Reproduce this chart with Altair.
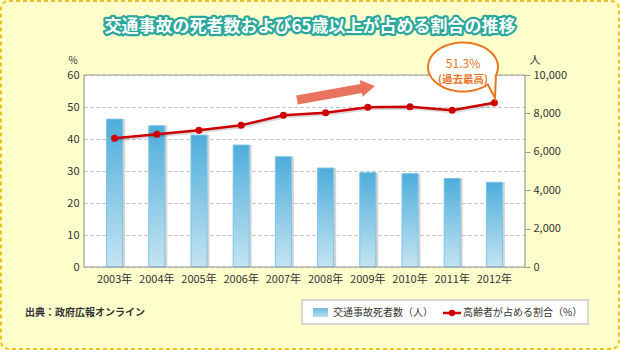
import math
import altair as alt
import pandas as pd

# ---------------- data ----------------
years = ["2003年", "2004年", "2005年", "2006年", "2007年",
         "2008年", "2009年", "2010年", "2011年", "2012年"]
deaths = [7702, 7358, 6871, 6352, 5744, 5155, 4914, 4863, 4611, 4411]
ratio = [40.2, 41.5, 42.7, 44.3, 47.4, 48.2, 49.9, 50.1, 49.0, 51.3]
left_ticks = [0, 10, 20, 30, 40, 50, 60]
right_ticks = [0, 2000, 4000, 6000, 8000, 10000]

title_text = "交通事故の死者数および65歳以上が占める割合の推移"
source_text = "出典：政府広報オンライン"
legend_bar = "交通事故死者数（人）"
legend_line = "高齢者が占める割合（%）"
callout_value = "51.3%"
callout_note = "(過去最高)"
unit_left = "%"
unit_right = "人"

FONT = "Noto Sans CJK JP"
W, H = 441, 192

df = pd.DataFrame({"year": years, "deaths": deaths, "ratio": ratio})
one = pd.DataFrame({"k": [0]})

# ---------------- encodings ----------------
x_enc = alt.X("year:N", sort=years,
              scale=alt.Scale(paddingInner=0.62, paddingOuter=0.535),
              axis=alt.Axis(title=None, labelAngle=0, ticks=False, domain=False,
                            labelPadding=6, labelFontSize=11, labelColor="#333333",
                            labelFont=FONT, grid=False))

y_deaths = alt.Y("deaths:Q", scale=alt.Scale(domain=[0, 10000], nice=False),
                 axis=alt.Axis(orient="right", values=right_ticks, format=",.0f",
                               title=None, domain=False, ticks=True, tickSize=5,
                               tickColor="#999999", labelPadding=3, labelFontSize=11,
                               labelColor="#333333", grid=False, labelFont=FONT))

y_ratio = alt.Y("ratio:Q", scale=alt.Scale(domain=[0, 60], nice=False),
                axis=alt.Axis(orient="left", values=left_ticks, title=None,
                              domain=False, ticks=False, labelPadding=5, grid=True,
                              gridColor="#BBBBBB", gridDash=[3, 3], labelFontSize=11,
                              labelColor="#333333", labelFont=FONT))

bar_grad = alt.LinearGradient(
    gradient="linear",
    stops=[alt.GradientStop(color="#4EADDB", offset=0),
           alt.GradientStop(color="#C4E4F1", offset=1)],
    x1=0, x2=0, y1=0, y2=1)

# ---------------- data layers ----------------
bar_shadow = alt.Chart(df).mark_bar(color="#888888", opacity=0.35, xOffset=2.5).encode(
    x=x_enc, y=y_deaths)
bars = alt.Chart(df).mark_bar(color=bar_grad, stroke="#7CC4E8", strokeWidth=1).encode(
    x=x_enc, y=y_deaths)
bar_group = alt.layer(bar_shadow, bars)

line_shadow = alt.Chart(df).mark_line(color="#000000", opacity=0.15, strokeWidth=3,
                                      xOffset=1.5, yOffset=1.5).encode(x=x_enc, y=y_ratio)
line = alt.Chart(df).mark_line(
    color="#CC0000", strokeWidth=2.5,
    point=alt.OverlayMarkDef(filled=True, size=50, color="#CC0000", opacity=1)
).encode(x=x_enc, y=y_ratio)
line_group = alt.layer(line_shadow, line)

# ---------------- decorations ----------------
frame = alt.Chart(one).mark_rect(fill="#ffffff", fillOpacity=0, stroke="#9A9A9A",
                                 strokeWidth=1.2).encode(
    x=alt.value(0), x2=alt.value(W), y=alt.value(0), y2=alt.value(H))

border = alt.Chart(one).mark_rect(fill="#ffffff", fillOpacity=0, stroke="#F0C020",
                                  strokeWidth=2, strokeDash=[4, 3], cornerRadius=8).encode(
    x=alt.value(-83), x2=alt.value(535), y=alt.value(-74), y2=alt.value(274))

title_outline = alt.Chart(one).mark_text(
    text=title_text, font=FONT, fontSize=17, fontWeight="bold", fill="#2CA89B",
    stroke="#2CA89B", strokeWidth=4.5, strokeJoin="round", align="center",
    baseline="middle").encode(x=alt.value(226), y=alt.value(-48))
title_fill = alt.Chart(one).mark_text(
    text=title_text, font=FONT, fontSize=17, fontWeight="bold", fill="#FFFFFF",
    align="center", baseline="middle").encode(x=alt.value(226), y=alt.value(-48))

unit_l = alt.Chart(one).mark_text(text=unit_left, font=FONT, fontSize=10, color="#333333",
                                  align="center", baseline="middle").encode(
    x=alt.value(-11), y=alt.value(-14))
unit_r = alt.Chart(one).mark_text(text=unit_right, font=FONT, fontSize=11, color="#333333",
                                  align="center", baseline="middle").encode(
    x=alt.value(451), y=alt.value(-14))

# arrow shape (pixel units with size=4)
arrow_path = "M-39.6,-4.5 L25.6,-4.5 L25.6,-8.5 L39.6,0 L25.6,8.5 L25.6,4.5 L-39.6,4.5 Z"
arrow = alt.Chart(one).mark_point(shape=arrow_path, size=4, filled=True, fill="#E9735F",
                                  strokeWidth=0, opacity=1, angle=349.8).encode(
    x=alt.value(252), y=alt.value(18))

# speech bubble shape
a, b = 35, 24.5
pts = []
for i in range(0, 56):
    th = math.radians(45 + i * (335 / 55))
    pts.append((a * math.cos(th), b * math.sin(th)))
bubble_path = "M" + " L".join(f"{px:.2f},{py:.2f}" for px, py in pts) + " L32,31 Z"
bubble = alt.Chart(one).mark_point(shape=bubble_path, size=4, filled=True, fill="#FFFFFF",
                                   stroke="#E8781E", strokeWidth=2, opacity=1).encode(
    x=alt.value(379), y=alt.value(-8))
bubble_t1 = alt.Chart(one).mark_text(text=callout_value, font=FONT, fontSize=12,
                                     color="#E8731E", align="center",
                                     baseline="middle").encode(
    x=alt.value(379), y=alt.value(-11))
bubble_t2 = alt.Chart(one).mark_text(text=callout_note, font=FONT, fontSize=10.5,
                                     fontWeight="bold", color="#E8731E", align="center",
                                     baseline="middle").encode(
    x=alt.value(379), y=alt.value(5))

# legend
leg_box = alt.Chart(one).mark_rect(fill="#FFFFFF", stroke="#CCCCCC", strokeWidth=1.5).encode(
    x=alt.value(218), x2=alt.value(504), y=alt.value(225), y2=alt.value(249))
leg_sq_grad = alt.LinearGradient(
    gradient="linear",
    stops=[alt.GradientStop(color="#6CBCE4", offset=0),
           alt.GradientStop(color="#B4DCF0", offset=1)],
    x1=0, x2=0, y1=0, y2=1)
leg_sq = alt.Chart(one).mark_rect(color=leg_sq_grad).encode(
    x=alt.value(229), x2=alt.value(244), y=alt.value(233), y2=alt.value(242))
leg_t1 = alt.Chart(one).mark_text(text=legend_bar, font=FONT, fontSize=10, color="#333333",
                                  align="left", baseline="middle").encode(
    x=alt.value(249), y=alt.value(238))
leg_line = alt.Chart(one).mark_rule(color="#CC0000", strokeWidth=2.5).encode(
    x=alt.value(359), x2=alt.value(377), y=alt.value(238))
leg_dot = alt.Chart(one).mark_point(filled=True, size=40, color="#CC0000", opacity=1).encode(
    x=alt.value(368), y=alt.value(238))
leg_t2 = alt.Chart(one).mark_text(text=legend_line, font=FONT, fontSize=10, color="#333333",
                                  align="left", baseline="middle").encode(
    x=alt.value(379), y=alt.value(238))

source = alt.Chart(one).mark_text(text=source_text, font=FONT, fontSize=10,
                                  fontWeight="bold", color="#333333", align="left",
                                  baseline="middle").encode(
    x=alt.value(-59), y=alt.value(238))

chart = alt.layer(
    bar_group, line_group, frame, border, title_outline, title_fill, unit_l, unit_r,
    arrow, bubble, bubble_t1, bubble_t2, leg_box, leg_sq, leg_t1, leg_line, leg_dot,
    leg_t2, source
).resolve_scale(y="independent").properties(
    width=W, height=H,
    padding={"left": 84, "top": 75, "right": 95, "bottom": 83},
    autosize=alt.AutoSizeParams(type="none"),
    background="#FFFFCC",
).configure_view(fill="#FFFFFF", strokeWidth=0)

chart.save("out.html", embed_options={"renderer": "svg", "actions": False})
